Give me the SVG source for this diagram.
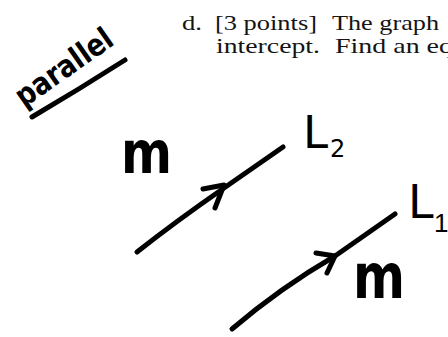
<svg xmlns="http://www.w3.org/2000/svg" width="448" height="337" viewBox="0 0 448 337">
  <style>
    .print { font-family: "Liberation Serif", "DejaVu Serif", serif; font-size: 22px; fill: #141414; }
    .hand { font-family: "DejaVu Sans", "Liberation Sans", sans-serif; fill: #000; }
    .stroke { fill: none; stroke: #000; stroke-width: 5; stroke-linecap: round; stroke-linejoin: round; }
  </style>
  <rect width="448" height="337" fill="#fff"/>

  <g id="question-text">
    <text class="print" x="182" y="30" textLength="20" lengthAdjust="spacingAndGlyphs">d.</text>
    <text class="print" x="215" y="30" textLength="102" lengthAdjust="spacingAndGlyphs">[3 points]</text>
    <text class="print" x="332" y="30" textLength="107" lengthAdjust="spacingAndGlyphs">The graph</text>
    <text class="print" x="216" y="53" textLength="104" lengthAdjust="spacingAndGlyphs">intercept.</text>
    <text class="print" x="335" y="53" textLength="118" lengthAdjust="spacingAndGlyphs">Find an eq</text>
  </g>

  <g id="parallel-label">
    <text class="hand" x="0" y="0" font-size="31" font-weight="bold" textLength="112" lengthAdjust="spacingAndGlyphs" transform="translate(24 108) rotate(-35)">parallel</text>
    <path class="stroke" d="M32 117 Q78 90 125 60"/>
  </g>

  <g id="connectors">
    <path class="stroke" d="M137 252 Q175 222 224 188 L283 147"/>
    <polyline class="stroke" points="203,189 224,185 215,208"/>
    <path class="stroke" d="M232 329 Q280 288 335 256 L395 214"/>
    <polyline class="stroke" points="316,253 335,256 327,273"/>
  </g>

  <g id="L2-label">
    <text class="hand" x="121" y="173" font-size="58" font-weight="bold" textLength="51" lengthAdjust="spacingAndGlyphs">m</text>
    <text class="hand" x="303" y="148" font-size="45">L</text>
    <text class="hand" x="330" y="157" font-size="24">2</text>
  </g>

  <g id="L1-label">
    <text class="hand" x="408" y="218" font-size="46">L</text>
    <text class="hand" x="434" y="232" font-size="26" style="font-family:'Liberation Sans',sans-serif">1</text>
    <text class="hand" x="353" y="298" font-size="62" font-weight="bold" textLength="52" lengthAdjust="spacingAndGlyphs">m</text>
  </g>
</svg>
